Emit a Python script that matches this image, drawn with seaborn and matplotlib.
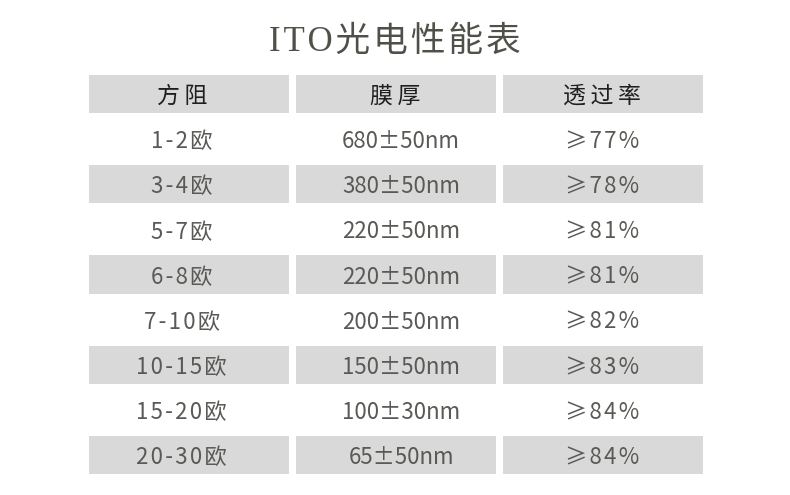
import numpy as np
import pandas as pd
import matplotlib
matplotlib.use('Agg')
import matplotlib.pyplot as plt
import seaborn as sns

# DATA
headers = ['方阻', '膜厚', '透过率']
resistance = ['1-2欧', '3-4欧', '5-7欧', '6-8欧', '7-10欧', '10-15欧', '15-20欧', '20-30欧']
thickness = ['680±50nm', '380±50nm', '220±50nm', '220±50nm', '200±50nm', '150±50nm', '100±30nm', '65±50nm']
transmittance = ['≥77%', '≥78%', '≥81%', '≥81%', '≥82%', '≥83%', '≥84%', '≥84%']
title = 'ITO光电性能表'

# letter spacing like the original (hair / thin space between chars)
def spaced(s, sp='\u200a'):
    return sp.join(s)

rows = [[spaced(a), b, spaced(c)] for a, b, c in zip(resistance, thickness, transmittance)]
labels = pd.DataFrame([[spaced(h, '\u2009') for h in headers]] + rows)
# stripe pattern: header gray, then alternating white / gray
stripes = np.array([[1 - (i % 2)] * 3 for i in range(len(labels))])

sns.set_style('white')
plt.rcParams['font.family'] = ['Noto Sans CJK SC', 'DejaVu Sans']

fig = plt.figure(figsize=(7.9, 4.95), dpi=100)
ax = fig.add_axes([84.5 / 790, 1 - 477.3 / 495, 621 / 790, 406.6 / 495])

sns.heatmap(stripes, ax=ax, cmap=['#ffffff', '#d9d9d9'], cbar=False,
            linewidths=5.0, linecolor='white', vmin=0, vmax=1,
            annot=labels.values, fmt='',
            annot_kws={'fontsize': 16, 'color': '#595955'})

# small per-column nudges so text sits where it does in the original
col_shift = [-0.03, 0.03, 0.0]
for i, t in enumerate(ax.texts):
    x, y = t.get_position()
    t.set_y(y + 0.07)  # CJK font sits high, push down a bit
    t.set_x(x + col_shift[i % 3])
    if i < 3:
        t.set_color('#1e1e1e')
        t.set_fontsize(16.5)
        t.set_x(x + (-0.03 if i == 0 else 0.0))

ax.set_xticks([])
ax.set_yticks([])
for s in ax.spines.values():
    s.set_visible(False)

fig.text(395 / 790, 1 - 42 / 495, spaced(title), ha='center', va='center',
         fontsize=25, color='#50504a',
         family=['Liberation Serif', 'Noto Sans CJK SC', 'DejaVu Sans'])

fig.savefig('out.png', dpi=100, facecolor='white')
